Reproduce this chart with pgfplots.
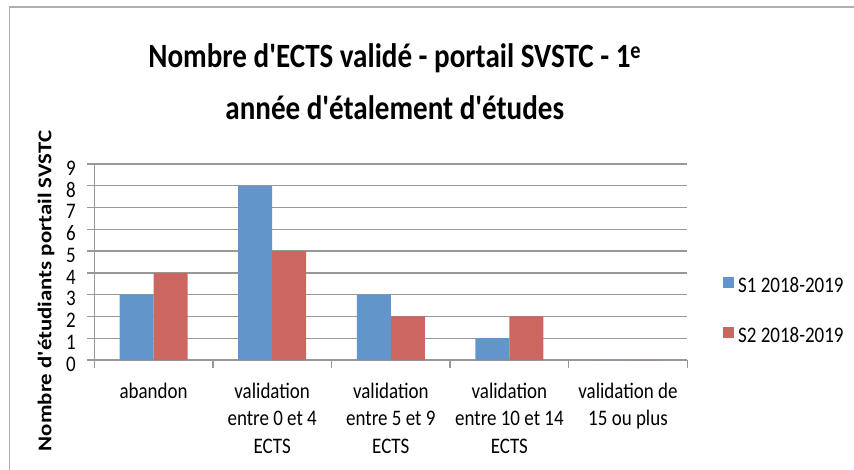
\documentclass[border=0pt]{standalone}
\usepackage{fontspec}
\setmainfont{Carlito}
\usepackage{pgfplots}
\pgfplotsset{compat=1.18}
\definecolor{sblue}{RGB}{98,150,202}
\definecolor{sred}{RGB}{204,102,96}
\definecolor{gridg}{RGB}{152,152,152}
\definecolor{frameg}{RGB}{175,175,175}
\newcommand\q{\textquotesingle}
\newcommand\hs[1]{\scalebox{0.855}[1]{#1}}
\newcommand\ml[1]{\hs{\begin{tabular}[t]{@{}c@{}}#1\end{tabular}}}
\begin{document}
\begin{tikzpicture}
\path[use as bounding box] (0,0) rectangle (854pt,469pt);
\draw[frameg, line width=1.2pt] (9.3pt,-2pt) -- (9.3pt,462pt) -- (856pt,462pt);
\begin{axis}[
  at={(94.3pt,109pt)}, anchor=south west,
  scale only axis, width=593pt, height=196pt,
  ybar=0pt, bar width=34pt,
  xmin=-0.5, xmax=4.5, ymin=0, ymax=9,
  xtick={0,1,2,3,4},
  xticklabels={{\ml{abandon}}, {\ml{validation\\entre 0 et 4\\ECTS}}, {\ml{validation\\entre 5 et 9\\ECTS}}, {\ml{validation\\entre 10 et 14\\ECTS}}, {\ml{validation de\\15 ou plus}}},
  minor xtick={-0.5,0.5,1.5,2.5,3.5,4.5},
  ytick={0,1,...,9},
  minor ytick={0,1,...,9},
  yticklabel={\hs{\pgfmathprintnumber{\tick}}},
  tick align=outside,
  major tick length=0pt, minor tick length=7.5pt,
  axis lines*=left,
  axis line style={gridg, line width=1.3pt},
  tick style={gridg, line width=1.3pt},
  ymajorgrids, grid style={gridg, line width=1.3pt},
  /pgf/number format/assume math mode=true,
  ticklabel style={font=\fontsize{22.2}{27.5}\selectfont, inner sep=0pt},
  xticklabel style={anchor=base, yshift=-38pt},
  yticklabel style={anchor=east, xshift=-18.3pt, yshift=-4pt},
  title={\hs{Nombre d\q ECTS validé - portail SVSTC - 1\textsuperscript{e}}\\\hs{année d\q étalement d\q études}},
  title style={font=\bfseries\fontsize{34}{52}\selectfont, align=center, at={(axis description cs:0.5,1)}, anchor=south, yshift=38pt, xshift=4pt, inner sep=0pt},
  ylabel={\scalebox{1.17}[1]{Nombre d\q étudiants portail SVSTC}},
  ylabel style={at={(axis description cs:-0.0815,0.352)}, anchor=center, font=\bfseries\fontsize{19.5}{22}\selectfont, inner sep=0pt},
  legend entries={\hs{S1 2018-2019}, \hs{S2 2018-2019}},
  legend image code/.code={\fill[#1] (0pt,4pt) rectangle (11pt,15pt);},
  legend cell align=left,
  legend style={at={(axis description cs:1.0602,0.4235)}, anchor=north west, draw=none, fill=none, font=\fontsize{22.2}{26}\selectfont, inner sep=0pt, row sep=33.3pt, column sep=4pt, nodes={inner sep=0pt}, cells={anchor=base west}},
]
\addplot[fill=sblue, draw=none] coordinates {(0,3) (1,8) (2,3) (3,1) (4,0)};
\addplot[fill=sred, draw=none] coordinates {(0,4) (1,5) (2,2) (3,2) (4,0)};
\end{axis}
\end{tikzpicture}
\end{document}
